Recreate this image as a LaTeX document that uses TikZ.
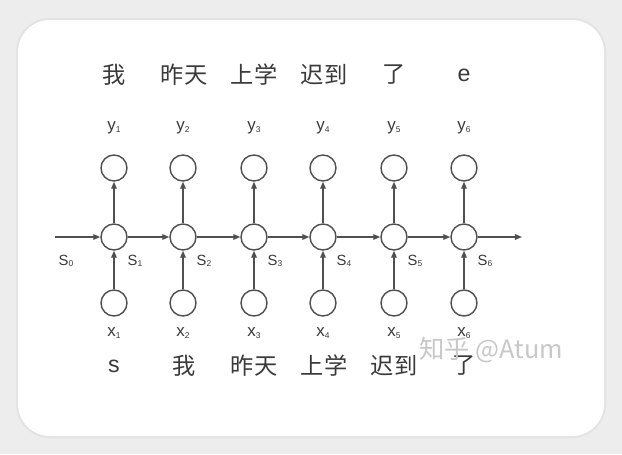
\documentclass[tikz,border=0pt]{standalone}
\usepackage{fontspec}
\setmainfont{Liberation Sans}
\newfontfamily\cjk{Noto Sans CJK SC}
\usepackage{tikz}
\usetikzlibrary{arrows.meta}
\definecolor{RNNGray}{HTML}{505050}
\definecolor{TextGray}{HTML}{3A3A3A}
\definecolor{PageGray}{HTML}{EDEDED}
\definecolor{MarkGray}{HTML}{C8C8C8}
\newcommand{\lbl}[2]{#1\raisebox{-0.2ex}{\fontsize{6}{6}\selectfont #2}}

\begin{document}
\begin{tikzpicture}[
    x = 0.025cm,
    y = -0.025cm,
    link/.style = {
        draw        = RNNGray,
        line width  = 1pt,
        -{Triangle[length = 5pt, width = 4pt]},
    },
    word/.style = {
        text        = TextGray,
        font        = \cjk\fontsize{16.5}{16.5}\selectfont,
        inner sep   = 0pt,
    },
    tag/.style = {
        text        = TextGray,
        font        = \fontsize{12}{12}\selectfont,
        inner sep   = 0pt,
    },
]
    \fill[PageGray] (0,0) rectangle (622,454);
    \fill[gray!22, rounded corners = 0.85cm] (16,18) rectangle (606,438);
    \fill[white, rounded corners = 0.8cm] (18,20) rectangle (604,436);
    \useasboundingbox (0,0) rectangle (622,454);

    \begin{scope}[
        every node/.style = {
            shape        = circle,
            draw         = RNNGray,
            line width   = 1pt,
            inner sep    = 0pt,
            minimum size = 0.65cm,
        }
    ]
        \foreach \i/\x in {1/114, 2/183, 3/254, 4/323, 5/394, 6/464} {
            \node (y\i) at (\x, 168) {};
            \node (h\i) at (\x, 237) {};
            \node (x\i) at (\x, 303) {};
        }
    \end{scope}

    \coordinate (in)  at ( 55, 237);
    \coordinate (out) at (522, 237);

    \draw[link] (in) -- (h1);
    \draw[link] (h6) -- (out);
    \foreach \i/\j in {1/2, 2/3, 3/4, 4/5, 5/6} {
        \draw[link] (h\i) -- (h\j);
    }
    \foreach \i in {1,...,6} {
        \draw[link] (x\i) -- (h\i);
        \draw[link] (h\i) -- (y\i);
    }

    % labels
    \foreach \i/\x in {1/114, 2/183, 3/254, 4/323, 5/394, 6/464} {
        \node[tag] (ty\i) at (\x, 128) {\lbl{y}{\i}};
        \node[tag] (tx\i) at (\x, 333) {\lbl{x}{\i}};
        \node[tag, font = \fontsize{10.5}{10.5}\selectfont] (ts\i) at (\x + 21, 261) {\lbl{S}{\i}};
    }
    \node[tag, font = \fontsize{10.5}{10.5}\selectfont] (ts0) at (66, 261) {\lbl{S}{0}};

    \foreach \w [count = \i] in {我, 昨天, 上学, 迟到, 了} {
        \node[word] (out\i) at ({114 + (\i - 1) * 70}, 75) {\w};
    }
    \node[word, font = \fontsize{16.5}{16.5}\selectfont] (out6) at (464, 75) {e};

    \node[word, font = \fontsize{16.5}{16.5}\selectfont] (in1) at (114, 366) {s};
    \foreach \w [count = \i from 2] in {我, 昨天, 上学, 迟到, 了} {
        \node[word] (in\i) at ({114 + (\i - 1) * 70}, 366) {\w};
    }

    \node[word, text = MarkGray, font = \cjk\fontsize{18}{18}\selectfont] (mark) at (491, 350) {知乎 @Atum};
\end{tikzpicture}
\end{document}
